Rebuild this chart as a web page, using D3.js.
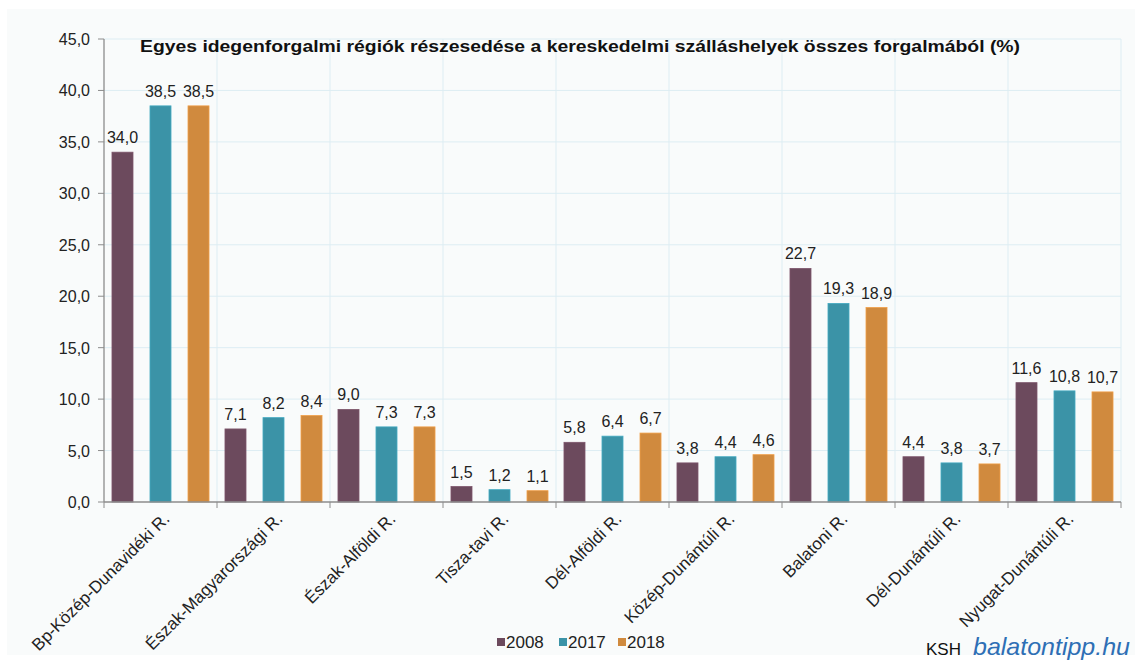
<!DOCTYPE html>
<meta charset="utf-8">
<style>
body { margin: 0; background: #fff; }
text { font-family: Arial, "Liberation Sans", sans-serif; fill: #222; }
.grid line { stroke: #ddedf3; stroke-width: 1; }
.val { font-size: 16px; text-anchor: middle; }
.tick-y { font-size: 16px; text-anchor: end; }
.cat { font-size: 17px; text-anchor: end; }
</style>
<svg width="1142" height="662"></svg>
<script src="https://d3js.org/d3.v7.min.js"></script>
<script>
var regions = ["Bp-Közép-Dunavidéki R.", "Észak-Magyarországi R.", "Észak-Alföldi R.",
  "Tisza-tavi R.", "Dél-Alföldi R.", "Közép-Dunántúli R.", "Balatoni R.",
  "Dél-Dunántúli R.", "Nyugat-Dunántúli R."];
var years = ["2008", "2017", "2018"];
var v2008 = [34.0, 7.1, 9.0, 1.5, 5.8, 3.8, 22.7, 4.4, 11.6];
var v2017 = [38.5, 8.2, 7.3, 1.2, 6.4, 4.4, 19.3, 3.8, 10.8];
var v2018 = [38.5, 8.4, 7.3, 1.1, 6.7, 4.6, 18.9, 3.7, 10.7];
var yTicks = [0, 5, 10, 15, 20, 25, 30, 35, 40, 45];
var colors = ["#6c4a5d", "#3b93a7", "#d08a3e"];
var title = "Egyes idegenforgalmi régiók részesedése a kereskedelmi szálláshelyek összes forgalmából (%)";

var series = [v2008, v2017, v2018];
var svg = d3.select("svg");

var fmt = function(v) { return d3.format(".1f")(v).replace(".", ","); };

svg.append("rect").attr("x", 7).attr("y", 9).attr("width", 1128).attr("height", 646)
  .attr("fill", "#f9fbfb");

var x0 = d3.scaleBand().domain(regions).range([104, 1121]).padding(0);
var x1 = d3.scaleBand().domain(years).range([0, x0.bandwidth()])
  .paddingInner(0.447).paddingOuter(0.21);
var y = d3.scaleLinear().domain([0, 45]).range([502, 39]);

// grid
var grid = svg.append("g").attr("class", "grid");
grid.selectAll(".h").data(yTicks.slice(1)).enter().append("line")
  .attr("x1", 104).attr("x2", 1121)
  .attr("y1", function(d) { return y(d); }).attr("y2", function(d) { return y(d); });
grid.selectAll(".v").data(regions).enter().append("line")
  .attr("x1", function(d) { return x0(d) + x0.bandwidth(); })
  .attr("x2", function(d) { return x0(d) + x0.bandwidth(); })
  .attr("y1", 39).attr("y2", 502);

// bars
var groups = svg.append("g").selectAll("g").data(regions).enter().append("g")
  .attr("transform", function(d) { return "translate(" + x0(d) + ",0)"; });

groups.each(function(r, ri) {
  var g = d3.select(this);
  years.forEach(function(yr, si) {
    var v = series[si][ri];
    g.append("rect")
      .attr("x", x1(yr)).attr("width", x1.bandwidth())
      .attr("y", y(v)).attr("height", y(0) - y(v))
      .attr("fill", colors[si])
      .attr("stroke", d3.color(colors[si]).brighter(0.4)).attr("stroke-width", 0.8);
    g.append("text").attr("class", "val")
      .attr("x", x1(yr) + x1.bandwidth() / 2).attr("y", y(v) - 9)
      .text(fmt(v));
  });
});

// y axis
svg.append("line").attr("x1", 104).attr("x2", 104).attr("y1", 39).attr("y2", 502)
  .attr("stroke", "#8c8c8c").attr("stroke-width", 1.3);
svg.selectAll(".yt").data(yTicks).enter().append("line")
  .attr("x1", 98).attr("x2", 104)
  .attr("y1", function(d) { return y(d); }).attr("y2", function(d) { return y(d); })
  .attr("stroke", "#8c8c8c");
svg.selectAll(".tick-y").data(yTicks).enter().append("text").attr("class", "tick-y")
  .attr("x", 90).attr("y", function(d) { return y(d) + 6; })
  .text(function(d) { return fmt(d); });

// x axis
svg.append("line").attr("x1", 104).attr("x2", 1121).attr("y1", 502).attr("y2", 502)
  .attr("stroke", "#8c8c8c").attr("stroke-width", 1.3);
svg.selectAll(".xt").data([0].concat(regions.map(function(d) { return x0(d) + x0.bandwidth(); })))
  .enter().append("line")
  .attr("x1", function(d, i) { return i === 0 ? 104 : d; })
  .attr("x2", function(d, i) { return i === 0 ? 104 : d; })
  .attr("y1", 502).attr("y2", 508).attr("stroke", "#8c8c8c");
svg.selectAll(".cat").data(regions).enter().append("text").attr("class", "cat")
  .attr("transform", function(d) {
    return "translate(" + (x0(d) + x0.bandwidth() / 2 + 10) + ",520) rotate(-45)";
  })
  .text(function(d) { return d; });

// title
svg.append("text").attr("x", 140).attr("y", 52)
  .attr("textLength", 880).attr("lengthAdjust", "spacingAndGlyphs")
  .style("font-size", "17px").style("font-weight", "bold").style("fill", "#111")
  .text(title);

// legend
var lx = [497, 559, 618];
years.forEach(function(yr, i) {
  svg.append("rect").attr("x", lx[i]).attr("y", 638).attr("width", 8).attr("height", 8)
    .attr("fill", colors[i]);
  svg.append("text").attr("x", lx[i] + 9).attr("y", 648)
    .style("font-size", "17px").text(yr);
});

// source
svg.append("text").attr("x", 926).attr("y", 655).style("font-size", "17px").style("fill", "#111").text("KSH");
svg.append("text").attr("x", 973).attr("y", 655)
  .attr("textLength", 157).attr("lengthAdjust", "spacingAndGlyphs")
  .style("font-size", "24px").style("font-style", "italic").style("fill", "#2e6fb5")
  .text("balatontipp.hu");
</script>
